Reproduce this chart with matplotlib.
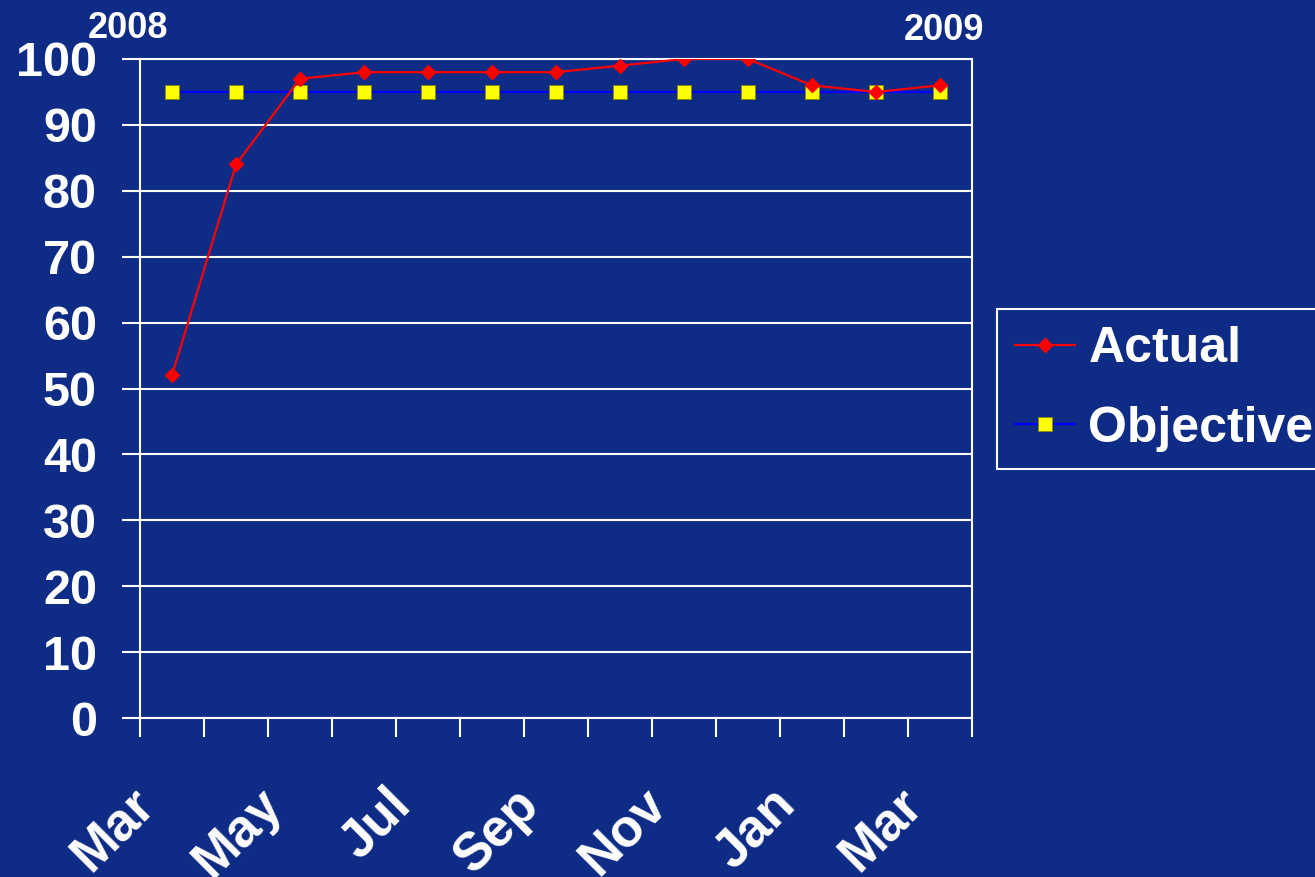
import numpy as np
import matplotlib
matplotlib.use("Agg")
import matplotlib.pyplot as plt
from matplotlib.transforms import ScaledTranslation

BG = '#0E2B86'

months = ['Mar', 'Apr', 'May', 'Jun', 'Jul', 'Aug', 'Sep', 'Oct', 'Nov', 'Dec', 'Jan', 'Feb', 'Mar']
actual = [52, 84, 97, 98, 98, 98, 98, 99, 100, 100, 96, 95, 96]
objective = [95, 95, 95, 95, 95, 95, 95, 95, 95, 95, 95, 95, 95]
y_ticks = [0, 10, 20, 30, 40, 50, 60, 70, 80, 90, 100]

plt.rcParams['font.family'] = ['Liberation Sans', 'DejaVu Sans']
plt.rcParams['font.weight'] = 'bold'

fig = plt.figure(figsize=(13.15, 8.77), dpi=100, facecolor=BG)
ax = fig.add_axes([140 / 1315, 1 - 718 / 877, (972 - 140) / 1315, (718 - 59) / 877])
ax.set_facecolor(BG)

x = np.arange(len(months))
ax.plot(x, objective, color='#0000FF', lw=1.6, marker='s', ms=9.5,
        mfc='#FFFF00', mec='#8A8A00', mew=0.6, label='Objective', zorder=3)
ax.plot(x, actual, color='#FF0000', lw=1.6, marker='D', ms=7.5,
        mfc='#FF0000', mec='#FF0000', label='Actual', zorder=4)

ax.set_xlim(-0.5, len(months) - 0.5)
ax.set_ylim(0, 100)
ax.set_yticks(y_ticks)
ax.yaxis.grid(True, color='white', lw=1.5)
ax.set_axisbelow(True)

# tick marks at category boundaries, labels every other month
ax.set_xticks(np.arange(-0.5, len(months), 1.0), minor=True)
ax.set_xticks(x[::2])
ax.set_xticklabels(months[::2], rotation=45, ha='right', va='top',
                   rotation_mode='anchor', fontsize=38, fontweight='bold', color='white')
ax.tick_params(axis='x', which='major', length=0, pad=44)
ax.tick_params(axis='x', which='minor', length=14, width=1.5, color='white', direction='out')
ax.tick_params(axis='y', length=13, width=1.5, color='white', pad=18,
               labelsize=35, labelcolor='white')
for lab in ax.get_yticklabels():
    lab.set_fontweight('bold')

shift = ScaledTranslation(-43 / 100, 0, fig.dpi_scale_trans)
for lab in ax.get_xticklabels():
    lab.set_transform(lab.get_transform() + shift)

for side in ['left', 'right', 'top', 'bottom']:
    ax.spines[side].set_color('white')
    ax.spines[side].set_linewidth(1.5)

fig.text(128 / 1315, 1 - 28 / 877, '2008', color='white', fontsize=26,
         fontweight='bold', ha='center', va='center')
fig.text(944 / 1315, 1 - 30 / 877, '2009', color='white', fontsize=26,
         fontweight='bold', ha='center', va='center')

handles, labels = ax.get_legend_handles_labels()
leg = fig.legend(handles[::-1], labels[::-1], loc='upper left',
                 bbox_to_anchor=(997 / 1315, 1 - 309 / 877),
                 prop={'family': 'Liberation Sans', 'weight': 'bold', 'size': 36},
                 frameon=True, fancybox=False, framealpha=1, facecolor=BG,
                 edgecolor='white', handlelength=1.2, handletextpad=0.28,
                 labelspacing=0.66, borderpad=0.35, borderaxespad=0)
leg.get_frame().set_linewidth(1.5)
for t in leg.get_texts():
    t.set_color('white')

fig.savefig('out.png', dpi=100, facecolor=BG)
